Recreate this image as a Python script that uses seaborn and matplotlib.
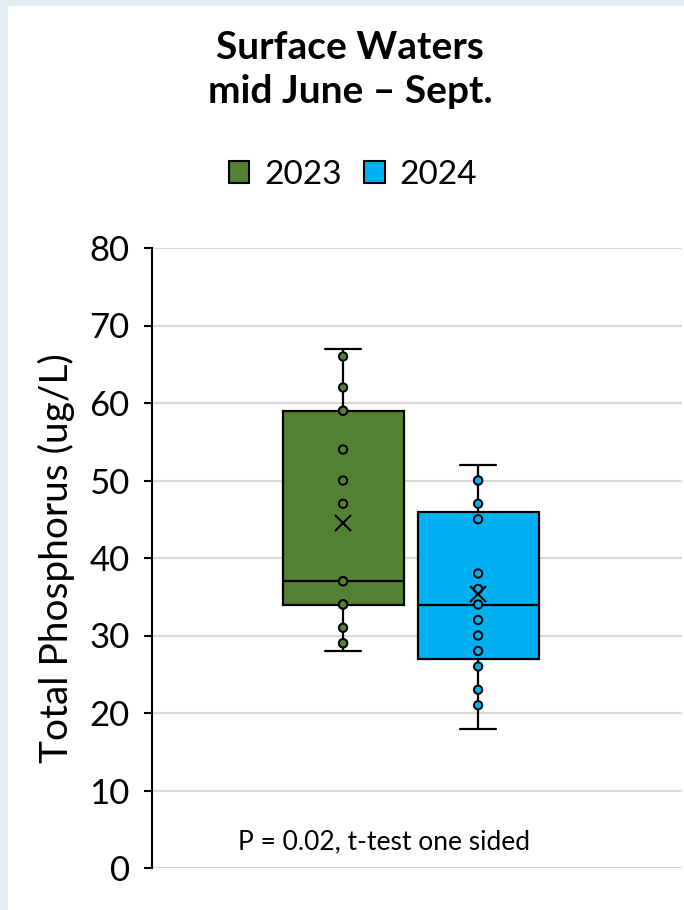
import matplotlib
matplotlib.use("Agg")
import matplotlib.pyplot as plt
from matplotlib.patches import Patch, Rectangle
import numpy as np
import pandas as pd
import seaborn as sns

# Total phosphorus samples (ug/L), surface waters, mid June - Sept.
tp_2023 = [28, 29, 29, 31, 34, 34, 34, 37, 37, 47, 50, 54, 59, 59, 62, 66, 67]
tp_2024 = [18, 21, 23, 26, 28, 30, 32, 34, 36, 38, 45, 47, 50, 50, 52]
years = ["2023", "2024"]
colors = ["#548235", "#00B0F0"]
y_ticks = [0, 10, 20, 30, 40, 50, 60, 70, 80]
title_lines = ["Surface Waters", "mid June \u2013 Sept."]
y_label = "Total Phosphorus (ug/L)"
note = "P = 0.02, t-test one sided"

df = pd.DataFrame({
    "grp": ["all"] * (len(tp_2023) + len(tp_2024)),
    "year": ["2023"] * len(tp_2023) + ["2024"] * len(tp_2024),
    "tp": tp_2023 + tp_2024,
})
# inner points: everything between the whisker ends
lo = df.groupby("year")["tp"].transform("min")
hi = df.groupby("year")["tp"].transform("max")
inner = df[(df["tp"] > lo) & (df["tp"] < hi)]

sns.set_theme(style="white")
plt.rcParams["font.family"] = ["Lato", "DejaVu Sans"]
plt.rcParams["text.color"] = "black"
plt.rcParams["axes.labelcolor"] = "black"
plt.rcParams["ytick.color"] = "black"

fig = plt.figure(figsize=(6.84, 9.10), dpi=100)
fig.patch.set_facecolor("#E2ECF1")
fig.patches.append(Rectangle((8 / 684, 0), 1, 1 - 6 / 910, transform=fig.transFigure,
                             facecolor="white", edgecolor="none", zorder=-5))

ax = fig.add_axes([152 / 684, 1 - 868 / 910, (682 - 152) / 684, (868 - 248) / 910])
ax.set_facecolor("white")
ax.patch.set_alpha(0)

palette = dict(zip(years, colors))
sns.boxplot(data=df, x="grp", y="tp", hue="year", hue_order=years, palette=palette,
            width=0.8, gap=0.104, saturation=1, linecolor="black", linewidth=1.6,
            showmeans=True, showfliers=False, capwidths=0.107,
            meanprops=dict(marker="x", markeredgecolor="black", markersize=12,
                           markeredgewidth=1.5, zorder=5),
            legend=False, ax=ax)
sns.stripplot(data=inner, x="grp", y="tp", hue="year", hue_order=years, palette=palette,
              dodge=True, jitter=False, size=6, linewidth=1.4, edgecolor="black",
              legend=False, zorder=4, ax=ax)

ax.set_xlim(-0.766, 0.804)
ax.set_ylim(0, 80)
ax.set_yticks(y_ticks)
ax.set_xticks([])
ax.set_xlabel("")
ax.set_ylabel(y_label, fontsize=28)
ax.yaxis.set_label_coords(-0.145, 0.5)
ax.tick_params(axis="y", labelsize=25, length=6, width=1.5, direction="out",
               left=True, pad=10, colors="black")
ax.yaxis.grid(True, color="#D9D9D9", linewidth=1.6)
ax.set_axisbelow(True)
for s in ["top", "right", "bottom"]:
    ax.spines[s].set_visible(False)
ax.spines["left"].set_color("black")
ax.spines["left"].set_linewidth(1.5)

ax.text(0.437, 3.4, note, transform=ax.get_yaxis_transform(), ha="center",
        va="center", fontsize=19)

fig.text(350 / 684, 1 - 59 / 910, title_lines[0], ha="center", va="baseline",
         fontsize=28, fontweight="bold")
fig.text(350 / 684, 1 - 103 / 910, title_lines[1], ha="center", va="baseline",
         fontsize=28, fontweight="bold")

handles = [Patch(facecolor=c, edgecolor="black", linewidth=1.5, label=y)
           for y, c in zip(years, colors)]
fig.legend(handles=handles, loc="center", bbox_to_anchor=(353 / 684, 1 - 175 / 910),
           ncol=2, frameon=False, fontsize=24, handlelength=0.62, handleheight=0.62,
           handletextpad=0.45, columnspacing=0.67, borderpad=0)

fig.savefig("out.png", dpi=100, facecolor=fig.get_facecolor())
